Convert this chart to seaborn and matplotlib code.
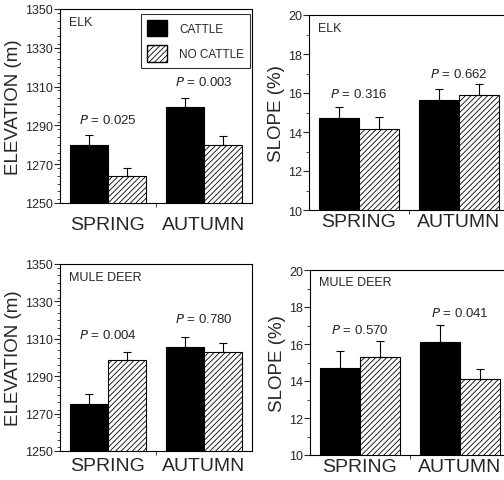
import numpy as np
import pandas as pd
import matplotlib
matplotlib.use("Agg")
import matplotlib.pyplot as plt
from matplotlib.ticker import MultipleLocator, FixedLocator
from matplotlib.patches import Patch
import seaborn as sns

sns.set_style("ticks")
plt.rcParams['font.family'] = ['Liberation Sans', 'DejaVu Sans']
plt.rcParams['hatch.linewidth'] = 0.6

seasons = ["SPRING", "AUTUMN"]
groups = ["CATTLE", "NO CATTLE"]

elk_elev = [1280.0, 1264.0, 1299.7, 1280.0]      # spring cattle, spring no, autumn cattle, autumn no
elk_elev_se = [5.2, 4.0, 4.6, 4.3]
elk_slope = [14.74, 14.14, 15.64, 15.90]
elk_slope_se = [0.52, 0.65, 0.55, 0.55]
deer_elev = [1275.3, 1298.7, 1305.7, 1302.7]
deer_elev_se = [5.3, 4.5, 5.5, 5.0]
deer_slope = [14.72, 15.32, 16.11, 14.09]
deer_slope_se = [0.88, 0.84, 0.92, 0.58]

elk_elev_p = ["0.025", "0.003"]
elk_slope_p = ["0.316", "0.662"]
deer_elev_p = ["0.004", "0.780"]
deer_slope_p = ["0.570", "0.041"]

elk_elev_py = [1293, 1312.5]
elk_slope_py = [16.0, 17.0]
deer_elev_py = [1312.3, 1320.6]
deer_slope_py = [16.8, 17.7]

W, H = 504, 481
fig = plt.figure(figsize=(W / 100, H / 100), dpi=100)


def make_ax(l, t, r, b):
    return fig.add_axes([l / W, 1 - b / H, (r - l) / W, (b - t) / H])


def panel(ax, vals, ses, pvals, py, ylim, major, offset, minor, ylabel, title,
          xpad, legend=False):
    df = pd.DataFrame({
        "season": [s for s in seasons for _ in groups],
        "group": [g for _ in seasons for g in groups],
        "value": vals,
        "se": ses,
    })
    sns.barplot(data=df, x="season", y="value", hue="group", order=seasons,
                hue_order=groups, palette=["black", "white"], edgecolor="black",
                linewidth=0.8, errorbar=None, width=0.8, ax=ax, legend=False)
    for i, p in enumerate(list(ax.patches)):
        gi = i // len(seasons)
        si = i % len(seasons)
        if gi == 1:
            p.set_hatch("//////")
        row = df[(df.group == groups[gi]) & (df.season == seasons[si])].iloc[0]
        xc = p.get_x() + p.get_width() / 2
        ax.errorbar([xc], [row.value], yerr=[[0], [row.se]], fmt="none",
                    ecolor="black", elinewidth=0.8, capsize=3, capthick=0.8, zorder=1)
    for si, s in enumerate(seasons):
        ax.text(si, py[si], "$\\it{P}$ = " + pvals[si], ha="center", va="center",
                fontsize=9.5)
    ax.set_ylim(*ylim)
    ax.set_xlim(-0.5, 1.5)
    ax.yaxis.set_major_locator(MultipleLocator(major, offset=offset))
    ax.yaxis.set_minor_locator(MultipleLocator(minor))
    ax.xaxis.set_minor_locator(FixedLocator([0.5]))
    ax.tick_params(axis="x", which="major", length=0, labelsize=14, pad=xpad)
    ax.tick_params(axis="x", which="minor", length=3, width=0.6, direction="out")
    ax.tick_params(axis="y", which="major", length=4, width=0.8, labelsize=9, pad=1)
    ax.tick_params(axis="y", which="minor", length=2, width=0.6)
    ax.set_xlabel("")
    ax.set_ylabel(ylabel, fontsize=13.5, labelpad=2)
    for sp in ax.spines.values():
        sp.set_visible(True)
        sp.set_linewidth(0.8)
        sp.set_color("black")
    ax.text(0.045, 0.965, title, transform=ax.transAxes, ha="left", va="top", fontsize=9)
    if legend:
        handles = [Patch(facecolor="black", edgecolor="black"),
                   Patch(facecolor="white", edgecolor="black", hatch="//////")]
        leg = ax.legend(handles, groups, loc="upper right", fontsize=8.5,
                        frameon=True, fancybox=False, edgecolor="black",
                        handlelength=1.7, handleheight=1.8, labelspacing=0.75,
                        borderpad=0.5, handletextpad=1.0, borderaxespad=0,
                        bbox_to_anchor=(0.99, 0.975))
        leg.get_frame().set_linewidth(0.8)


ax1 = make_ax(60, 10, 252, 204)
ax2 = make_ax(309, 16, 509, 211)
ax3 = make_ax(60, 265, 252, 452)
ax4 = make_ax(310, 271, 510, 456)

panel(ax1, elk_elev, elk_elev_se, elk_elev_p, elk_elev_py, (1250, 1350), 20, 10, 4,
      "ELEVATION (m)", "ELK", 9.5, legend=True)
panel(ax2, elk_slope, elk_slope_se, elk_slope_p, elk_slope_py, (10, 20), 2, 0, 1,
      "SLOPE (%)", "ELK", 2.5)
panel(ax3, deer_elev, deer_elev_se, deer_elev_p, deer_elev_py, (1250, 1350), 20, 10, 4,
      "ELEVATION (m)", "MULE DEER", 4.5)
panel(ax4, deer_slope, deer_slope_se, deer_slope_p, deer_slope_py, (10, 20), 2, 0, 1,
      "SLOPE (%)", "MULE DEER", 2)

fig.savefig("out.png", dpi=100)
